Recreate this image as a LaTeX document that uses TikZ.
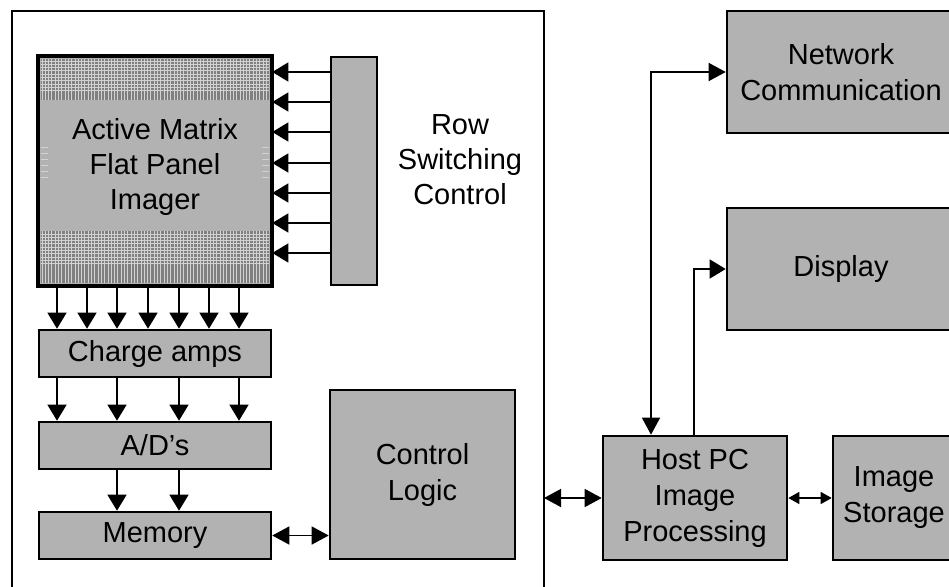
\documentclass[tikz,border=0pt]{standalone}
\usepackage{fontspec}
\setmainfont{Liberation Sans}
\usetikzlibrary{arrows.meta,calc}
\definecolor{boxgray}{HTML}{B2B2B2}
\definecolor{pixdark}{HTML}{808080}
\definecolor{pixlight}{HTML}{D2D2D2}

\tikzset{
  blk/.style={draw, line width=2.6pt, fill=boxgray, inner sep=0pt, align=center,
    font=\fontsize{29}{36}\selectfont},
  lbl/.style={align=center, font=\fontsize{29}{35}\selectfont},
  arr/.style={-{Triangle[length=16pt,width=19pt]}, line width=1.4pt},
  darr/.style={{Triangle[length=17pt,width=18pt]}-{Triangle[length=17pt,width=18pt]}, line width=1.4pt},
  sarr/.style={{Triangle[length=11pt,width=12pt]}-{Triangle[length=11pt,width=12pt]}, line width=1.4pt},
  grid line/.style={pixlight, line width=1pt}
}

\begin{document}
\begin{tikzpicture}[x=1pt, y=-1pt]
  \useasboundingbox (0,0) rectangle (949,586);
  \clip (0,0) rectangle (949,586);

  % detector housing
  \draw[line width=2.6pt] (12,600) -- (12,11) -- (544,11) -- (544,600);

  \node[blk, minimum width=232pt, minimum height=228pt] (imager) at (155,171) {};
  % pixel matrix texture
  \fill[pixdark] (41,59) rectangle (269,100);
  \fill[pixdark] (41,231) rectangle (269,283);
  \foreach \y in {61,64.3,...,93} \draw[grid line] (41,\y) -- (269,\y);
  \foreach \y in {234,237.3,...,267} \draw[grid line] (41,\y) -- (269,\y);
  \foreach \x in {42,45.3,...,268} {
    \draw[grid line] (\x,59) -- (\x,100);
    \draw[grid line] (\x,231) -- (\x,283);
  }
  \foreach \y in {147,153,...,178} {
    \draw[grid line] (41,\y) -- (48,\y);
    \draw[grid line] (262,\y) -- (269,\y);
  }
  \draw[line width=2.6pt] (imager.north west) rectangle (imager.south east);
  \node[lbl] (imagertxt) at (155,167) {Active Matrix\\Flat Panel\\Imager};

  \node[blk, minimum width=46pt, minimum height=228pt] (rowsw) at (354,171) {};
  \node[lbl] (rowlbl) at (460,160) {Row\\Switching\\Control};

  \node[blk, minimum width=232pt, minimum height=47pt] (amps) at (155,353.5) {Charge amps};
  \node[blk, minimum width=232pt, minimum height=47pt] (adc) at (155,445.5) {A/D's};
  \node[blk, minimum width=232pt, minimum height=47pt] (mem) at (155,535.5) {Memory};
  \node[blk, minimum width=185pt, minimum height=169pt] (ctrl) at (422.5,474.5) {Control\\Logic};

  \node[blk, minimum width=184pt, minimum height=124pt] (host) at (695,498) {Host PC\\Image\\Processing};
  \node[blk, minimum width=122pt, minimum height=124pt] (store) at (894,498) {Image\\Storage};
  \node[blk, minimum width=228pt, minimum height=122pt] (net) at (841,72) {Network\\Communication};
  \node[blk, minimum width=228pt, minimum height=122pt] (disp) at (841,269) {Display};

  \foreach \y in {72,102,132,163,193,223,253}
    \draw[arr] (rowsw.west |- 0,\y) -- (imager.east |- 0,\y);
  \foreach \x in {57,87,117,148,179,209,239}
    \draw[arr] (imager.south -| \x,0) -- (amps.north -| \x,0);
  \foreach \x in {57,117,179,239}
    \draw[arr] (amps.south -| \x,0) -- (adc.north -| \x,0);
  \foreach \x in {117,179}
    \draw[arr] (adc.south -| \x,0) -- (mem.north -| \x,0);
  \draw[darr] (mem.east) -- (ctrl.west |- mem.east);

  \coordinate (bus) at (544,498);
  \draw[darr] (bus) -- (host.west);
  \draw[sarr] (host.east) -- (store.west);
  \draw[darr] (host.north -| 651,0) |- (net.west);
  \draw[arr] (host.north -| 694,0) |- (disp.west);
\end{tikzpicture}
\end{document}
